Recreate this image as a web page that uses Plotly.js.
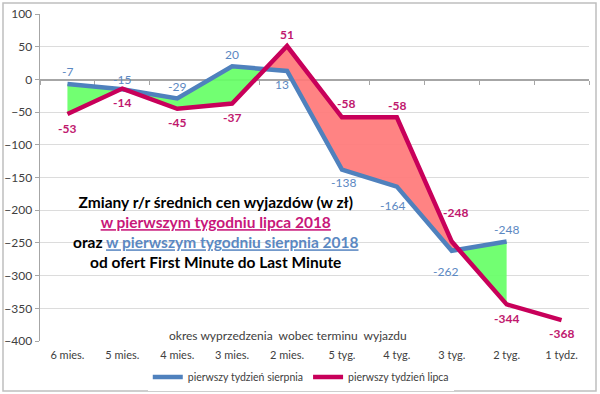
<!DOCTYPE html>
<html>
<head>
<meta charset="utf-8">
<script src="https://cdn.plot.ly/plotly-3.0.1.min.js"></script>
<style>
html,body{margin:0;padding:0;background:#fff;}
#chart{width:600px;height:394px;}
</style>
</head>
<body>
<div id="chart"></div>
<script>
const categories = ['6 mies.', '5 mies.', '4 mies.', '3 mies.', '2 mies.', '5 tyg.', '4 tyg.', '3 tyg.', '2 tyg.', '1 tydz.'];
const augValues = [-7, -15, -29, 20, 13, -138, -164, -262, -248, null];
const julValues = [-53, -14, -45, -37, 51, -58, -58, -248, -344, -368];
const augName = 'pierwszy tydzień sierpnia';
const julName = 'pierwszy tydzień lipca';
const yRange = [-400, 100];

// label offsets (pixels) — styling only
const augShift = [[0, 12], [0, 10], [0, 12], [0, 12], [-5, -14], [2, -13], [-4, -19], [-6, -21], [0, 12], null];
const julShift = [[0, -14], [0, -14], [0, -14], [0, -14], [0, 12], [4, 14], [0, 12], [4, 29], [0, -14], [0, -13]];

const FONT = 'Lato, "Open Sans", sans-serif';
const BLUE = '#4f81bd';
const BLUE_TXT = '#5b88c2';
const MAG = '#c8005a';
const MAG_TXT = '#c0186e';
const GREEN = 'rgba(102,255,102,0.92)';
const RED = 'rgba(255,120,120,0.92)';

const xs = categories.map((c, i) => i);

// build fill polygons between the two series
const pts = [];
for (let i = 0; i < categories.length; i++) {
  const a = augValues[i], j = julValues[i];
  if (a === null || j === null) continue;
  pts.push({x: i, a: a, j: j});
  if (i + 1 < categories.length && augValues[i + 1] !== null && julValues[i + 1] !== null) {
    const d0 = a - j, d1 = augValues[i + 1] - julValues[i + 1];
    if (d0 * d1 < 0) {
      const t = d0 / (d0 - d1);
      const yc = a + t * (augValues[i + 1] - a);
      pts.push({x: i + t, a: yc, j: yc});
    }
  }
}
const runs = [];
for (let k = 0; k + 1 < pts.length; k++) {
  const p = pts[k], q = pts[k + 1];
  if (q.x - p.x > 1.0001) continue;
  const up = (p.a - p.j) + (q.a - q.j) >= 0;
  const last = runs[runs.length - 1];
  if (last && last.up === up && last.pts[last.pts.length - 1] === p) {
    last.pts.push(q);
  } else {
    runs.push({up: up, pts: [p, q]});
  }
}
const fillTraces = runs.map(r => {
  const fx = r.pts.map(p => p.x).concat(r.pts.slice().reverse().map(p => p.x));
  const fy = r.pts.map(p => p.a).concat(r.pts.slice().reverse().map(p => p.j));
  return {
    x: fx, y: fy, type: 'scatter', mode: 'lines', fill: 'toself',
    fillcolor: r.up ? GREEN : RED, line: {width: 0}, hoverinfo: 'skip', showlegend: false
  };
});

const traces = fillTraces.concat([
  {x: xs, y: augValues, name: augName, type: 'scatter', mode: 'lines',
   line: {color: BLUE, width: 4.5}, hoverinfo: 'skip'},
  {x: xs, y: julValues, name: julName, type: 'scatter', mode: 'lines',
   line: {color: MAG, width: 4.5}, hoverinfo: 'skip'},
  {x: [0], y: [0], xaxis: 'x2', type: 'scatter', mode: 'none', showlegend: false, hoverinfo: 'skip'}
]);

const annotations = [];
augValues.forEach((v, i) => {
  if (v === null) return;
  annotations.push({x: i, y: v, xref: 'x', yref: 'y', text: String(v), showarrow: false,
    xshift: augShift[i][0], yshift: augShift[i][1],
    font: {family: FONT, size: 12, color: BLUE_TXT}});
});
julValues.forEach((v, i) => {
  if (v === null) return;
  annotations.push({x: i, y: v, xref: 'x', yref: 'y', text: '<b>' + v + '</b>', showarrow: false,
    xshift: julShift[i][0], yshift: julShift[i][1],
    font: {family: FONT, size: 12, color: MAG_TXT}});
});
annotations.push({
  xref: 'paper', yref: 'paper', x: 0.3206, y: 0.333, xanchor: 'center', yanchor: 'middle',
  showarrow: false, align: 'center',
  font: {family: FONT, size: 15.5, color: '#000'},
  text: '<b>Zmiany r/r średnich cen wyjazdów (w zł)</b><br>' +
        '<b><span style="color:#c8177a"><u>w pierwszym tygodniu lipca 2018</u></span></b><br>' +
        '<b>oraz <span style="color:#5b88c2"><u>w pierwszym tygodniu sierpnia 2018</u></span></b><br>' +
        '<b>od ofert First Minute do Last Minute</b>'
});
annotations.push({
  xref: 'paper', yref: 'paper', x: 0.452, y: 0.016, xanchor: 'center', yanchor: 'middle',
  showarrow: false, bgcolor: '#ffffff', borderpad: 2,
  font: {family: FONT, size: 12, color: '#404040'},
  text: 'okres wyprzedzenia  wobec terminu  wyjazdu'
});

const zeroPos = (0 - yRange[0]) / (yRange[1] - yRange[0]);
const tickBounds = categories.map((c, i) => i - 0.5).concat([categories.length - 0.5]);

const layout = {
  width: 600, height: 394,
  margin: {l: 40, r: 11, t: 14, b: 53, autoexpand: false},
  paper_bgcolor: '#ffffff', plot_bgcolor: '#ffffff',
  font: {family: FONT, color: '#404040'},
  showlegend: true,
  legend: {orientation: 'h', x: 0.475, xanchor: 'center', y: -0.11, yanchor: 'middle',
    font: {family: FONT, size: 10.5, color: '#404040'}, traceorder: 'normal',
    itemwidth: 30, tracegroupgap: 0},
  xaxis: {
    range: [-0.5, categories.length - 0.5], tickmode: 'array', tickvals: xs, ticktext: categories,
    showgrid: false, showline: false, zeroline: false, ticks: '', ticklabelstandoff: 6,
    tickfont: {family: FONT, size: 11, color: '#404040'}, fixedrange: true
  },
  xaxis2: {
    overlaying: 'x', anchor: 'free', position: zeroPos, side: 'bottom',
    range: [-0.5, categories.length - 0.5], tickmode: 'array', tickvals: tickBounds,
    showticklabels: false, showgrid: false, zeroline: false,
    showline: true, linecolor: '#a6a6a6', linewidth: 1.5,
    ticks: 'outside', ticklen: 4, tickcolor: '#a6a6a6', tickwidth: 1, layer: 'below traces'
  },
  yaxis: {
    range: yRange, dtick: 50, tick0: 0, showgrid: true, gridcolor: '#dcdcdc', gridwidth: 1,
    zeroline: false, showline: true, linecolor: '#a6a6a6', linewidth: 1.5,
    ticks: 'outside', ticklen: 4, tickcolor: '#a6a6a6',
    tickfont: {family: FONT, size: 12, color: '#404040'}, fixedrange: true
  },
  annotations: annotations,
  shapes: [{
    type: 'rect', xref: 'paper', yref: 'paper',
    x0: (3 - 40) / 549, x1: (596 - 40) / 549, y0: (341 - 391) / 327, y1: (341 - 3) / 327,
    line: {color: '#bfbfbf', width: 1.5}, fillcolor: 'rgba(0,0,0,0)'
  }]
};

Plotly.newPlot('chart', traces, layout, {staticPlot: true, displayModeBar: false});
</script>
</body>
</html>
